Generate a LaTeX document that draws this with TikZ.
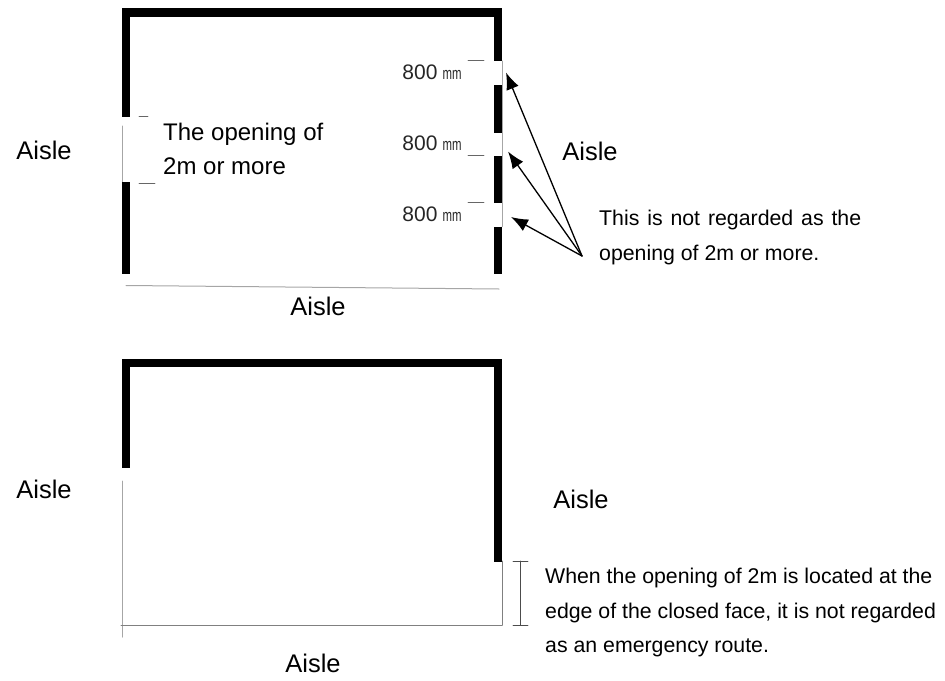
\documentclass[tikz,border=0pt]{standalone}
\usepackage{fontspec}
\usepackage{graphicx}
\usepackage{tkz-euclide}
\usetikzlibrary{arrows.meta}
\setmainfont{Liberation Sans}
\tikzset{
	wall/.style={line width=8.5pt, line cap=butt, line join=miter, black},
	thinwall/.style={line width=1pt, gray!70},
	tick/.style={line width=0.8pt, gray!80!black},
	aisle/.style={font=\fontsize{25.5}{30}\selectfont},
	note/.style={font=\fontsize{21.3}{34.5}\selectfont, align=left, anchor=north west, inner sep=0pt},
	width/.style={font=\fontsize{21}{24}\selectfont, text=black!85, inner sep=0pt},
	pointer/.style={line width=1.3pt, -{Latex[length=17pt,width=13pt]}}
}
\newcommand{\myWidthLabel}[2]{
\node[width] (#1) at (#2) {800\hspace{5pt}{\fontsize{17}{17}\selectfont\scalebox{0.67}[1]{mm}}};
}

\begin{document}
\begin{tikzpicture}[x=1pt,y=-1pt]
	\useasboundingbox (0,0) rectangle (945,680);
	% upper room
	\tkzDefPoints{126/116.5/A, 126/12.5/B, 498/12.5/C, 498/61/D,
		126/182/E, 126/274/F, 498/85/G, 498/132.5/H,
		498/156/I, 498/203/J, 498/226.5/K, 498/274/L}
	% thin lines under the openings
	\tkzDefPoints{122/126/M, 122/199/N, 502/61/O, 502/226.5/P, 126/285.5/Q, 499/289/R}
	\tkzDrawSegments[thinwall](M,N O,P Q,R)
	% drawing black walls
	\tkzDrawPolySeg[wall](A,B,C,D)
	\tkzDrawSegments[wall](E,F G,H I,J K,L)
	% small ticks at the openings
	\tkzDefPoints{139/116.5/Ta, 148/116.5/Tb, 139/183/Tc, 155/183/Td,
		468/60.5/Te, 484/60.5/Tf, 468/155.5/Tg, 484/155.5/Th, 468/202.5/Ti, 484/202.5/Tj}
	\tkzDrawSegments[tick](Ta,Tb Tc,Td Te,Tf Tg,Th Ti,Tj)
	% arrows to the short openings
	\tkzDefPoints{582/256/S, 506/72.5/Ua, 508/151.5/Ub, 511/217/Uc}
	\tkzDrawSegments[pointer](S,Ua S,Ub S,Uc)
	% lower room
	\tkzDefPoints{126/467.5/a, 126/363/b, 498/363/c, 498/561.5/d,
		122.5/481/e, 122.5/637/f, 121/625/g, 502/625/h, 502/561/i}
	\tkzDrawSegments[thinwall](e,f)
	\tkzDrawSegments[line width=1pt, gray](g,h h,i)
	\tkzDrawPolySeg[wall](a,b,c,d)
	% size mark of the edge opening
	\tkzDefPoints{520/561/j, 520/625/k, 513/561/l, 528/561/m, 513/625/n, 528/625/o}
	\tkzDrawSegments[line width=0.7pt, black!70](j,k l,m n,o)
	% texts
	\node[aisle] (aisleA) at (44,150) {Aisle};
	\node[aisle] (aisleB) at (590,151) {Aisle};
	\node[aisle] (aisleC) at (318,306) {Aisle};
	\node[aisle] (aisleD) at (44,489) {Aisle};
	\node[aisle] (aisleE) at (581,499) {Aisle};
	\node[aisle] (aisleF) at (313,663) {Aisle};
	\node[note, font=\fontsize{24}{34}\selectfont] (openA) at (163,122.5) {The opening of\\2m or more};
	\node[note] (noteA) at (599,210) {\makebox[262pt][s]{This is not regarded as the}\\opening of 2m or more.};
	\node[note] (noteB) at (545,568) {When the opening of 2m is located at the\\edge of the closed face, it is not regarded\\as an emergency route.};
	\myWidthLabel{sizeA}{432,72}
	\myWidthLabel{sizeB}{432,143}
	\myWidthLabel{sizeC}{432,214}
\end{tikzpicture}
\end{document}
